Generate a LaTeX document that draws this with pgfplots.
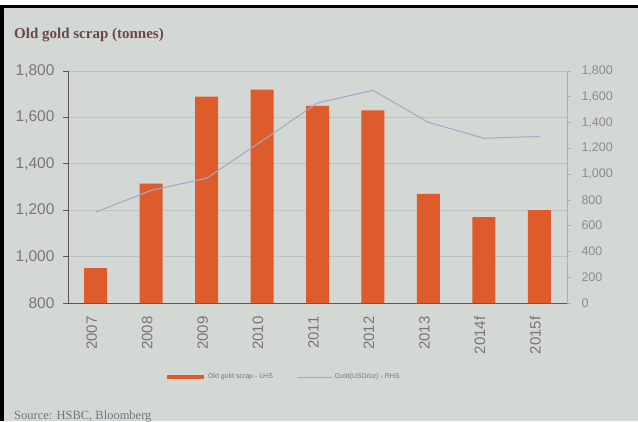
\documentclass[border=0pt]{standalone}
\usepackage{fontspec}
\setmainfont{Liberation Serif}
\setsansfont{Liberation Sans}
\usepackage{pgfplots}
\pgfplotsset{compat=1.18}
\definecolor{bg}{HTML}{D3D8D5}
\definecolor{barc}{HTML}{DE5C2C}
\definecolor{goldline}{HTML}{A3A9C6}
\definecolor{gridc}{HTML}{BFC4C2}
\definecolor{tickc}{HTML}{767778}
\definecolor{ticklight}{HTML}{8A8C8E}
\definecolor{titlec}{HTML}{6B474B}
\pgfplotsset{
  barleg/.style={legend image code/.code={\draw[##1] (0pt,0pt) -- (37pt,0pt);}},
  lineleg/.style={legend image code/.code={\draw[##1] (0pt,0pt) -- (35pt,0pt);}},
}
\begin{document}
\begin{tikzpicture}[x=1pt,y=1pt]
\useasboundingbox (0,0) rectangle (638,421);
\fill[bg] (0,0) rectangle (638,421);
\fill[white] (0,416) rectangle (638,421);
\fill[black] (0,413) rectangle (638,416);
\fill[black] (0,0) rectangle (4,416);
\node[anchor=base west, font=\bfseries\fontsize{15}{15}\selectfont, text=titlec, inner sep=0pt] at (14,382) {Old gold scrap (tonnes)};
\node[anchor=base west, font=\fontsize{12.5}{12.5}\selectfont, text=tickc, inner sep=0pt] at (14,2) {Source: HSBC, Bloomberg};

\begin{axis}[at={(68pt,118pt)}, anchor=south west, scale only axis,
  width=499pt, height=232pt,
  xmin=-0.5, xmax=8.5, ymin=800, ymax=1800,
  axis x line*=bottom, axis y line*=left,
  axis line style={draw=black!65, line width=0.8pt},
  ybar, bar width=23pt,
  xtick={0,...,8},
  xticklabels={2007,2008,2009,2010,2011,2012,2013,2014f,2015f},
  major x tick style={draw=none},
  extra x ticks={0.5,1.5,...,8.5},
  extra x tick labels={},
  extra x tick style={tick align=outside, major tick length=5pt, tick style={draw=black!65, line width=0.8pt}},
  ytick={800,1000,...,1800},
  tick align=outside, major tick length=5pt,
  y tick style={draw=black!65, line width=0.8pt},
  ymajorgrids, major grid style={draw=gridc, line width=0.7pt},
  /pgf/number format/assume math mode=true,
  /pgf/number format/1000 sep={,},
  yticklabel style={font=\sffamily\fontsize{15.5}{15.5}\selectfont, text=tickc, xshift=-5pt},
  xticklabel style={font=\sffamily\fontsize{15}{15}\selectfont, text=tickc, rotate=90, anchor=east, xshift=-5pt, yshift=4pt},
]
\addplot[fill=barc, draw=none] coordinates {(0,950) (1,1315) (2,1690) (3,1720) (4,1650) (5,1630) (6,1270) (7,1170) (8,1200)};
\end{axis}

\begin{axis}[at={(68pt,118pt)}, anchor=south west, scale only axis,
  width=499pt, height=232pt,
  xmin=-0.5, xmax=8.5, ymin=0, ymax=1800,
  axis y line*=right, axis x line=none,
  y axis line style={draw=ticklight!70, line width=0.7pt},
  ytick={0,200,...,1800},
  tick align=outside, major tick length=4pt,
  y tick style={draw=ticklight!70, line width=0.7pt},
  /pgf/number format/assume math mode=true,
  /pgf/number format/1000 sep={,},
  yticklabel style={font=\sffamily\fontsize{12.5}{12.5}\selectfont, text=ticklight, xshift=7pt},
  legend style={at={(0.194,-0.319)}, anchor=west, draw=none, fill=none, inner sep=0pt,
    font=\sffamily\fontsize{7}{7}\selectfont, text=tickc, legend columns=2,
    /tikz/every even column/.append style={column sep=22pt}},
]
\addlegendimage{line width=4pt, color=barc, barleg}
\addlegendentry{Old gold scrap - LHS}
\addplot[goldline, line width=1pt, lineleg] coordinates {(0,705) (1,874) (2,968) (3,1258) (4,1552) (5,1650) (6,1402) (7,1278) (8,1292)};
\addlegendentry{Gold(USD/oz) - RHS}
\end{axis}
\end{tikzpicture}
\end{document}
